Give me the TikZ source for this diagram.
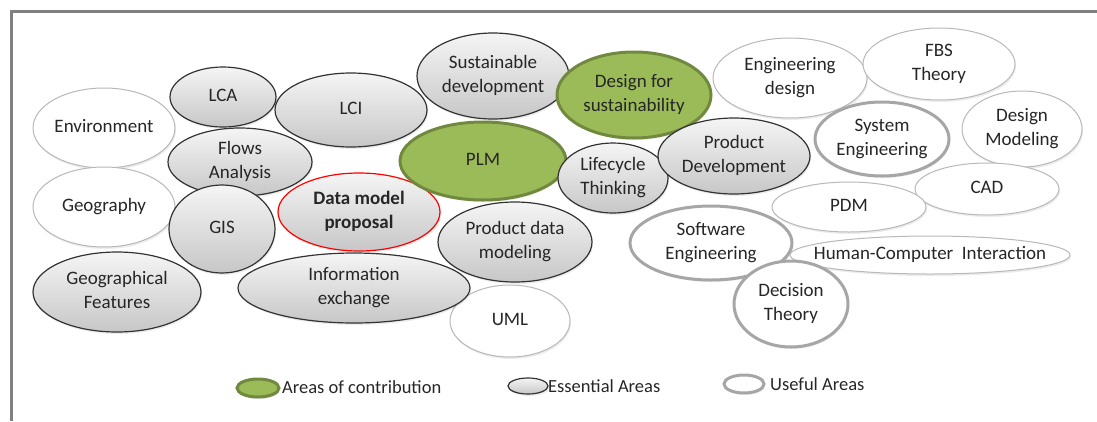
\documentclass[tikz,border=0pt]{standalone}
\usepackage{fontspec}
\setmainfont{Carlito}
\usepackage{tikz}
\usetikzlibrary{shapes.geometric,shadows}

\definecolor{contribfill}{HTML}{9BBB59}
\definecolor{contribline}{HTML}{71893F}
\newcommand{\lbl}[1]{\makebox[0pt]{\begin{tabular}{@{}c@{}}#1\end{tabular}}}

\begin{document}
\begin{tikzpicture}[x=1pt,y=-1pt,inner sep=0pt,
    sz/.style 2 args={minimum width=#1,minimum height=#2}]
       \tikzstyle{area}=[ellipse,font=\fontsize{19}{24}\selectfont,text=black!85,
              drop shadow={shadow xshift=1pt,shadow yshift=-2pt,opacity=.15}]
       \tikzstyle{essential}=[area,draw=black!80,line width=1.2pt,top color=black!4,bottom color=black!22]
       \tikzstyle{contribution}=[area,draw=contribline,line width=3pt,fill=contribfill]
       \tikzstyle{useful}=[area,draw=black!28,line width=1pt,fill=white]
       \tikzstyle{usefulbold}=[area,draw=black!35,line width=3pt,fill=white]
       \tikzstyle{proposal}=[essential,draw=red,font=\fontsize{19}{24}\selectfont\bfseries]
       \tikzstyle{legend}=[anchor=west,font=\fontsize{18.5}{22}\selectfont,text=black!85]

       \useasboundingbox (0,0) rectangle (1097,421);
       \draw[black!50,line width=3pt] (10,11.5) -- (1097,11.5);
       \draw[black!50,line width=3pt] (11.5,10) -- (11.5,421);

       % left group
       \node[useful,sz={142}{80}] (env) at (104,128) {\lbl{Environment}};
       \node[useful,sz={142}{80}] (geo) at (104,207) {\lbl{Geography}};
       \node[essential,sz={106}{60}] (lca) at (223,97) {\lbl{LCA}};
       \node[essential,sz={144}{68}] (flows) at (240,162) {\lbl{Flows\\Analysis}};
       \node[essential,sz={152}{74}] (lci) at (351,110) {\lbl{LCI}};
       \node[essential,sz={106}{88}] (gis) at (222,229) {\lbl{GIS}};
       \node[essential,sz={168}{80}] (geof) at (117,292) {\lbl{Geographical\\Features}};
       \node[useful,sz={120}{72}] (uml) at (510,321) {\lbl{UML}};
       \node[essential,sz={232}{70}] (info) at (354,288) {\lbl{Information\\exchange}};
       \node[essential,sz={154}{80}] (pdmod) at (515,242) {\lbl{Product data\\modeling}};
       \node[proposal,sz={162}{78}] (dmp) at (359,212) {\lbl{Data model\\proposal}};

       % middle group
       \node[essential,sz={152}{86}] (sust) at (493,76) {\lbl{Sustainable\\development}};
       \node[contribution,sz={166}{78}] (plm) at (483,161) {\lbl{PLM}};
       \node[contribution,sz={154}{86}] (dfs) at (634,95) {\lbl{Design for\\sustainability}};
       \node[essential,sz={110}{70}] (life) at (613,178) {\lbl{Lifecycle\\Thinking}};
       \node[essential,sz={152}{76}] (prod) at (734,156) {\lbl{Product\\Development}};

       % right group
       \node[useful,sz={154}{80}] (engd) at (790,78) {\lbl{Engineering\\design}};
       \node[useful,sz={152}{72}] (fbs) at (939,64) {\lbl{FBS\\Theory}};
       \node[usefulbold,sz={134}{74}] (syse) at (882,139) {\lbl{System\\Engineering}};
       \node[useful,sz={120}{76}] (dmod) at (1022,129) {\lbl{Design\\Modeling}};
       \node[useful,sz={144}{52}] (cad) at (987,189) {\lbl{CAD}};
       \node[useful,sz={154}{50}] (pdm) at (849,207) {\lbl{PDM}};
       \node[usefulbold,sz={162}{74}] (soft) at (711,243) {\lbl{Software\\Engineering}};
       \node[useful,sz={280}{38}] (hci) at (930,255) {\lbl{Human-Computer\ \ Interaction}};
       \node[usefulbold,sz={114}{86}] (dec) at (791,304) {\lbl{Decision\\Theory}};

       % legend
       \node[contribution,sz={42}{18}] (kc) at (258,388) {};
       \node[legend] (kct) at (282,387) {Areas of contribution};
       \node[essential,sz={40}{16}] (ke) at (528,386) {};
       \node[legend] (ket) at (548,386) {Essential Areas};
       \node[usefulbold,sz={40}{18}] (ku) at (744,384) {};
       \node[legend] (kut) at (770,384) {Useful Areas};
\end{tikzpicture}
\end{document}
